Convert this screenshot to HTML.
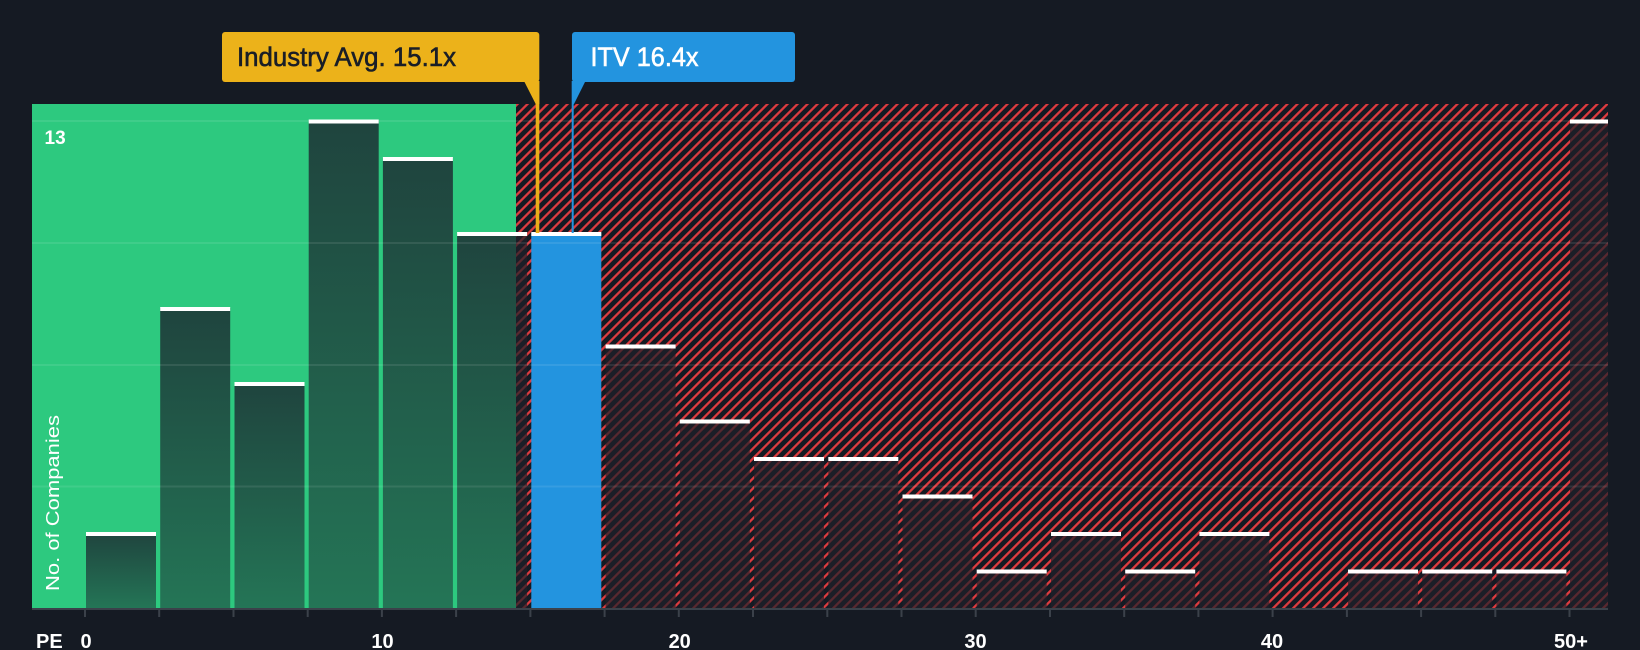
<!DOCTYPE html>
<html><head><meta charset="utf-8"><style>
html,body{margin:0;padding:0;background:#151a23;}
svg{display:block;}
text{font-family:"Liberation Sans",Arial,sans-serif;}
</style></head><body>
<svg width="1640" height="650" viewBox="0 0 1640 650" xmlns="http://www.w3.org/2000/svg">
<defs>
<pattern id="hatch" width="7.07" height="7.07" patternUnits="userSpaceOnUse" patternTransform="rotate(45)">
<rect x="0" y="0" width="2.3" height="7.07" fill="#de3b3f"/>
</pattern>
<linearGradient id="gbar" x1="0" y1="0" x2="0" y2="1">
<stop offset="0" stop-color="#1f443e"/>
<stop offset="1" stop-color="#247556"/>
</linearGradient>
<clipPath id="cg"><rect x="0" y="0" width="516" height="650"/></clipPath>
<clipPath id="cr"><rect x="516" y="0" width="1124" height="650"/></clipPath>
</defs>
<rect width="1640" height="650" fill="#151a23"/>
<rect x="32" y="104" width="484" height="504" fill="#2dc97f"/>
<rect x="516" y="104" width="1092" height="504" fill="#151a23"/>
<rect x="516" y="104" width="1092" height="504" fill="url(#hatch)"/>

<g clip-path="url(#cg)" fill="url(#gbar)">
<rect x="86" y="533" width="70" height="75"/>
<rect x="160.2" y="308" width="70" height="300"/>
<rect x="234.5" y="383" width="70" height="225"/>
<rect x="308.7" y="120.5" width="70" height="487.5"/>
<rect x="382.9" y="158" width="70" height="450"/>
<rect x="457.1" y="233" width="70" height="375"/>
</g>
<g clip-path="url(#cr)" fill="#1f212a" fill-opacity="0.7">
<rect x="457.1" y="233" width="70" height="375"/>
<rect x="605.6" y="345.5" width="70" height="262.5"/>
<rect x="679.8" y="420.5" width="70" height="187.5"/>
<rect x="754" y="458" width="70" height="150"/>
<rect x="828.3" y="458" width="70" height="150"/>
<rect x="902.5" y="495.5" width="70" height="112.5"/>
<rect x="976.7" y="570.5" width="70" height="37.5"/>
<rect x="1051" y="533" width="70" height="75"/>
<rect x="1125.2" y="570.5" width="70" height="37.5"/>
<rect x="1199.4" y="533" width="70" height="75"/>
<rect x="1348" y="570.5" width="70" height="37.5"/>
<rect x="1422.2" y="570.5" width="70" height="37.5"/>
<rect x="1496.4" y="570.5" width="70" height="37.5"/>
<rect x="1570" y="120.5" width="38" height="487.5"/>
</g>
<rect x="531.3" y="233" width="70" height="375" fill="#2394df"/>

<g fill="#ffffff" fill-opacity="0.09">
<rect x="32" y="120" width="1576" height="2"/>
<rect x="32" y="242" width="1576" height="2"/>
<rect x="32" y="364" width="1576" height="2"/>
<rect x="32" y="485.5" width="1576" height="2"/>
</g>

<g fill="#ffffff">
<rect x="86" y="532" width="70" height="4"/>
<rect x="160.2" y="307" width="70" height="4"/>
<rect x="234.5" y="382" width="70" height="4"/>
<rect x="308.7" y="119.5" width="70" height="4"/>
<rect x="382.9" y="157" width="70" height="4"/>
<rect x="457.1" y="232" width="70" height="4"/>
<rect x="531.3" y="232" width="70" height="4"/>
<rect x="605.6" y="344.5" width="70" height="4"/>
<rect x="679.8" y="419.5" width="70" height="4"/>
<rect x="754" y="457" width="70" height="4"/>
<rect x="828.3" y="457" width="70" height="4"/>
<rect x="902.5" y="494.5" width="70" height="4"/>
<rect x="976.7" y="569.5" width="70" height="4"/>
<rect x="1051" y="532" width="70" height="4"/>
<rect x="1125.2" y="569.5" width="70" height="4"/>
<rect x="1199.4" y="532" width="70" height="4"/>
<rect x="1348" y="569.5" width="70" height="4"/>
<rect x="1422.2" y="569.5" width="70" height="4"/>
<rect x="1496.4" y="569.5" width="70" height="4"/>
<rect x="1570" y="119.5" width="38" height="4"/>
</g>

<rect x="32" y="608" width="1576" height="2" fill="#3b414a"/>
<g fill="#3b414a">
<rect x="84" y="609" width="2" height="8"/>
<rect x="158.2" y="609" width="2" height="8"/>
<rect x="232.5" y="609" width="2" height="8"/>
<rect x="306.7" y="609" width="2" height="8"/>
<rect x="380.9" y="609" width="2" height="8"/>
<rect x="455.1" y="609" width="2" height="8"/>
<rect x="529.4" y="609" width="2" height="8"/>
<rect x="603.6" y="609" width="2" height="8"/>
<rect x="677.8" y="609" width="2" height="8"/>
<rect x="752" y="609" width="2" height="8"/>
<rect x="826.3" y="609" width="2" height="8"/>
<rect x="900.5" y="609" width="2" height="8"/>
<rect x="974.7" y="609" width="2" height="8"/>
<rect x="1049" y="609" width="2" height="8"/>
<rect x="1123.2" y="609" width="2" height="8"/>
<rect x="1197.4" y="609" width="2" height="8"/>
<rect x="1271.6" y="609" width="2" height="8"/>
<rect x="1345.9" y="609" width="2" height="8"/>
<rect x="1420.1" y="609" width="2" height="8"/>
<rect x="1494.3" y="609" width="2" height="8"/>
<rect x="1568.5" y="609" width="2" height="8"/>
</g>

<g fill="#ffffff" font-size="20" font-weight="bold" text-anchor="middle">
<text x="86" y="648">0</text>
<text x="382.5" y="648">10</text>
<text x="679.7" y="648">20</text>
<text x="975.5" y="648">30</text>
<text x="1272" y="648">40</text>
<text x="1571" y="648">50+</text>
</g>
<text x="36" y="648" fill="#ffffff" font-size="20" font-weight="bold">PE</text>

<text x="59" y="503" fill="#ffffff" font-size="18" text-anchor="middle" textLength="176" lengthAdjust="spacingAndGlyphs" transform="rotate(-90 59 503)">No. of Companies</text>
<text x="44.5" y="144" fill="#ffffff" font-size="19" font-weight="bold">13</text>

<rect x="535.7" y="81" width="3.6" height="152" fill="#e9af18"/>
<polygon points="524,81 539.3,81 539.3,104 535.7,104" fill="#ecb21a"/>
<rect x="222" y="32" width="317.3" height="50" rx="3" fill="#ecb21a"/>
<text x="237" y="66" fill="#1a1e27" stroke="#1a1e27" stroke-width="0.6" font-size="26.5" textLength="219" lengthAdjust="spacingAndGlyphs">Industry Avg. 15.1x</text>

<rect x="571.7" y="81" width="2" height="152" fill="#2394df"/>
<polygon points="572,81 585.5,81 574,104 572,104" fill="#2394df"/>
<rect x="572" y="32" width="223" height="50" rx="3" fill="#2394df"/>
<text x="590.5" y="66" fill="#ffffff" stroke="#ffffff" stroke-width="0.6" font-size="26.5" textLength="108" lengthAdjust="spacingAndGlyphs">ITV 16.4x</text>
</svg>
</body></html>
